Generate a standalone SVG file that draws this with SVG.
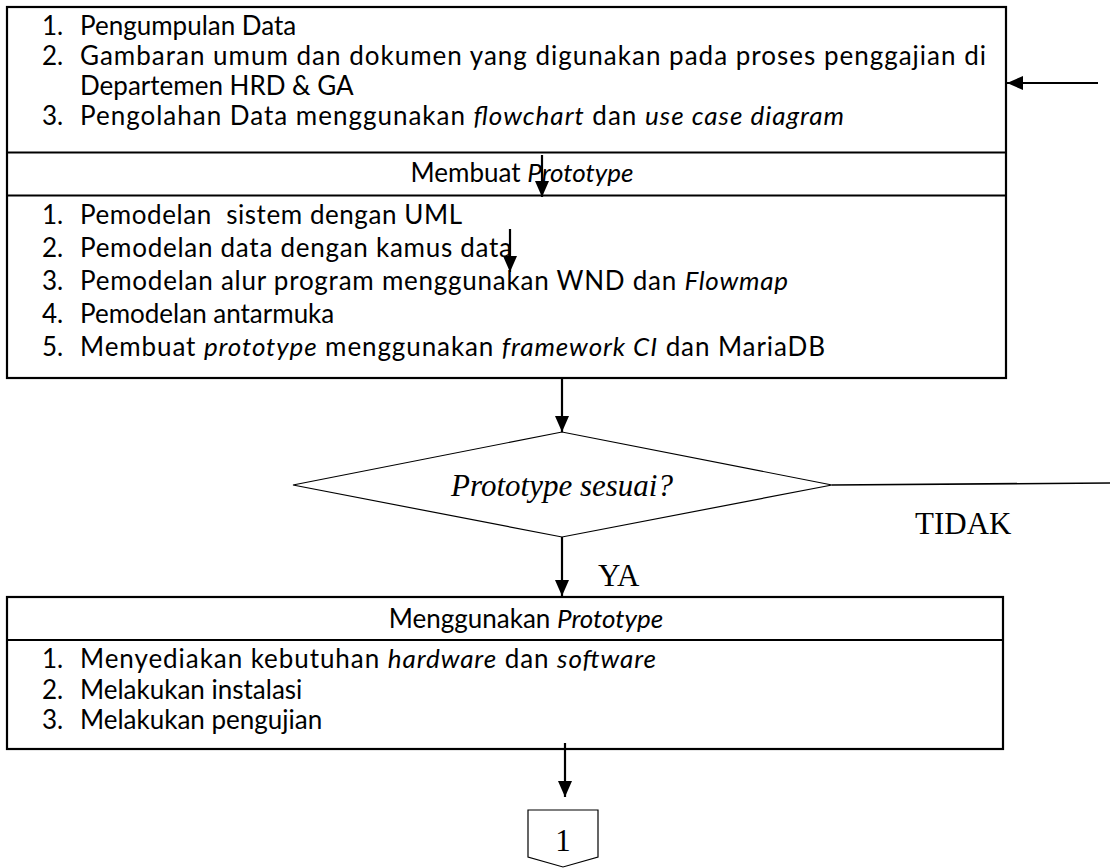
<svg xmlns="http://www.w3.org/2000/svg" width="1110" height="868" viewBox="0 0 1110 868">
  <style>
    .frame { fill: #fff; stroke: #000; stroke-width: 2.2; }
    .rule { stroke: #000; stroke-width: 2.2; }
    .body { font-family: Lato, "Liberation Sans", sans-serif; font-size: 26px; fill: #000; }
    .serif { font-family: "Liberation Serif", "Times New Roman", serif; font-size: 31px; fill: #000; }
    .it { font-style: italic; }
    .flow { stroke: #000; stroke-width: 2.2; fill: none; marker-end: url(#head); }
    .thin { fill: #fff; stroke: #000; stroke-width: 1.2; }
  </style>
  <defs>
    <marker id="head" markerUnits="userSpaceOnUse" markerWidth="16" markerHeight="18" refX="16" refY="7" orient="auto">
      <path d="M0,0 L16,7 L0,14 Z" fill="#000"/>
    </marker>
  </defs>

  <rect width="1110" height="868" fill="#fff"/>

  <!-- Analysis and prototype-building block -->
  <g id="box-analisis">
    <rect class="frame" x="7" y="7" width="999" height="371"/>
    <line class="rule" x1="7" y1="152.5" x2="1006" y2="152.5"/>
    <line class="rule" x1="7" y1="195.5" x2="1006" y2="195.5"/>
    <g class="body">
      <text x="42" y="35">1.</text>
      <text x="80" y="35">Pengumpulan Data</text>
      <text x="42" y="65">2.</text>
      <text x="80" y="65" textLength="906" lengthAdjust="spacing">Gambaran umum dan dokumen yang digunakan pada proses penggajian di</text>
      <text x="80" y="95">Departemen HRD &amp; GA</text>
      <text x="42" y="125">3.</text>
      <text x="80" y="125" textLength="764" lengthAdjust="spacing">Pengolahan Data menggunakan <tspan class="it">flowchart</tspan> dan <tspan class="it">use case diagram</tspan></text>
      <text x="522" y="182" text-anchor="middle">Membuat <tspan class="it">Prototype</tspan></text>
      <text x="42" y="224">1.</text>
      <text x="80" y="224" textLength="382" lengthAdjust="spacing">Pemodelan&#160; sistem dengan UML</text>
      <text x="42" y="257">2.</text>
      <text x="80" y="257" textLength="432" lengthAdjust="spacing">Pemodelan data dengan kamus data</text>
      <text x="42" y="290">3.</text>
      <text x="80" y="290" textLength="708" lengthAdjust="spacing">Pemodelan alur program menggunakan WND dan <tspan class="it">Flowmap</tspan></text>
      <text x="42" y="323">4.</text>
      <text x="80" y="323">Pemodelan antarmuka</text>
      <text x="42" y="356">5.</text>
      <text x="80" y="356" textLength="745" lengthAdjust="spacing">Membuat <tspan class="it">prototype</tspan> menggunakan <tspan class="it">framework CI</tspan> dan MariaDB</text>
    </g>
  </g>

  <!-- Decision -->
  <g id="decision-sesuai">
    <polygon class="thin" points="293,485 562,432 832,485 562,537"/>
    <text class="serif it" x="562" y="496" text-anchor="middle">Prototype sesuai?</text>
  </g>

  <!-- Implementation block -->
  <g id="box-implementasi">
    <rect class="frame" x="7" y="597" width="996" height="152"/>
    <line class="rule" x1="7" y1="640" x2="1003" y2="640"/>
    <g class="body">
      <text x="526" y="628" text-anchor="middle">Menggunakan <tspan class="it">Prototype</tspan></text>
      <text x="42" y="668">1.</text>
      <text x="80" y="668" textLength="576" lengthAdjust="spacing">Menyediakan kebutuhan <tspan class="it">hardware</tspan> dan <tspan class="it">software</tspan></text>
      <text x="42" y="699">2.</text>
      <text x="80" y="699">Melakukan instalasi</text>
      <text x="42" y="729">3.</text>
      <text x="80" y="729">Melakukan pengujian</text>
    </g>
  </g>

  <!-- Off-page connector -->
  <g id="connector-1">
    <polygon class="thin" points="528,810 598,810 598,857 563,867 528,857"/>
    <text class="serif" x="563" y="851" text-anchor="middle">1</text>
  </g>

  <!-- Flow lines and labels -->
  <g id="connectors">
    <line class="flow" x1="1098" y1="83" x2="1007" y2="83"/>
    <line class="flow" x1="542" y1="155" x2="542" y2="197"/>
    <line class="flow" x1="510" y1="229" x2="510" y2="272"/>
    <line class="flow" x1="562" y1="378" x2="562" y2="432"/>
    <line stroke="#000" stroke-width="1.6" x1="832" y1="485" x2="1110" y2="483"/>
    <line class="flow" x1="562" y1="537" x2="562" y2="596"/>
    <line class="flow" x1="565" y1="743" x2="565" y2="797"/>
    <text class="serif" x="915" y="534">TIDAK</text>
    <text class="serif" x="598" y="586">YA</text>
  </g>
</svg>
